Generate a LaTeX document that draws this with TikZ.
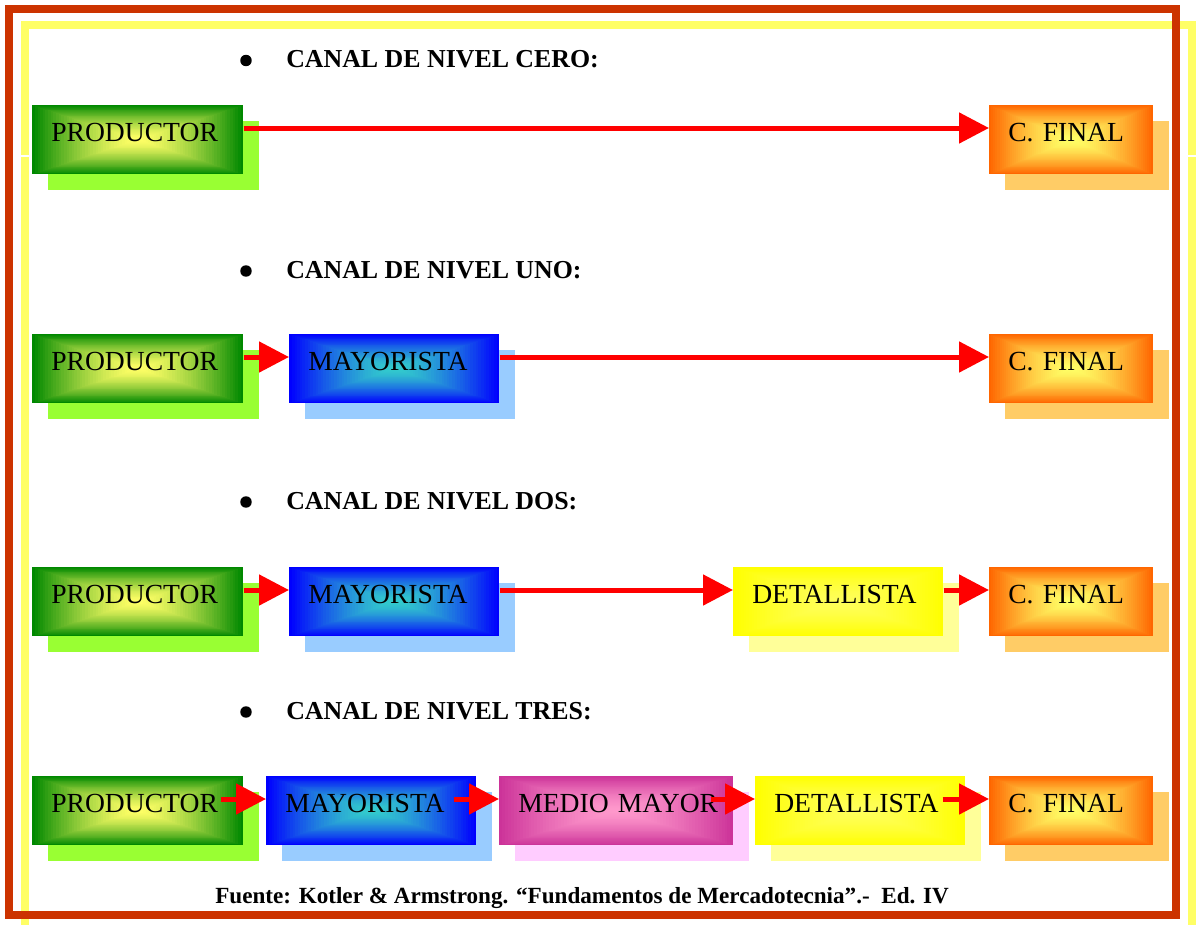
\documentclass[tikz,border=0pt]{standalone}
\usepackage{fontspec}
\setmainfont{Liberation Serif}
\usetikzlibrary{calc,arrows.meta,shadows}

% frame colours
\definecolor{framered}{RGB}{204,51,0}
\definecolor{frameyellow}{RGB}{255,255,102}
\definecolor{arrowred}{RGB}{255,0,0}
% box colours: outer, inner, shadow
\definecolor{prodout}{RGB}{0,136,0}
\definecolor{prodin}{RGB}{255,255,102}
\definecolor{prodsh}{RGB}{153,255,51}
\definecolor{mayout}{RGB}{0,0,255}
\definecolor{mayin}{RGB}{51,204,204}
\definecolor{maysh}{RGB}{153,204,255}
\definecolor{medout}{RGB}{204,51,153}
\definecolor{medin}{RGB}{255,153,204}
\definecolor{medsh}{RGB}{255,204,255}
\definecolor{detout}{RGB}{255,255,0}
\definecolor{detin}{RGB}{255,255,90}
\definecolor{detsh}{RGB}{255,255,153}
\definecolor{finout}{RGB}{255,102,0}
\definecolor{finin}{RGB}{255,255,102}
\definecolor{finsh}{RGB}{255,204,102}

\newcommand\boxfont{\fontsize{20.7pt}{24pt}\selectfont}
\newcommand\headfont{\fontsize{19.4pt}{23pt}\selectfont\bfseries}
\newcommand\notefont{\fontsize{17.35pt}{20pt}\selectfont\bfseries}

\tikzset{
  % box with a rectangular gradient from the centre outwards and a flat offset shadow
  gbox/.style n args={3}{
    rectangle, anchor=north west, fill=#1,
    inner xsep=14.25pt, inner ysep=0pt,
    text height=27pt, text depth=24.75pt,
    align=left, font=\boxfont,
    general shadow={fill=#3, shadow xshift=12pt, shadow yshift=-12pt},
    path picture={
      \foreach \k in {0,...,40}{
        \pgfmathsetmacro\fr{\k/80}
        \pgfmathsetmacro\pc{100*(1-(1-\k/40)^1.5)}
        \fill[#2!\pc!#1]
          ($(path picture bounding box.south west)!\fr!(path picture bounding box.north east)$)
          rectangle
          ($(path picture bounding box.north east)!\fr!(path picture bounding box.south west)$);
      }
    }
  },
  prod/.style={gbox={prodout}{prodin}{prodsh}, text width=129.75pt},
  mayo/.style={gbox={mayout}{mayin}{maysh}, text width=129pt},
  medi/.style={gbox={medout}{medin}{medsh}, text width=147pt},
  deta/.style={gbox={detout}{detin}{detsh}, text width=129pt},
  fina/.style={gbox={finout}{finin}{finsh}, text width=94.5pt},
  heading/.style={anchor=base west, inner sep=0pt, font=\headfont},
  bulletdot/.style={circle, fill=black, inner sep=0pt, minimum size=8.6pt},
  arr/.style={draw=arrowred, line width=3.75pt,
    -{Triangle[length=22.5pt,width=22.5pt]}},
}

\begin{document}
\begin{tikzpicture}[x=0.75pt,y=-0.75pt]
\useasboundingbox (0,0) rectangle (1200,925);

% double page frame
\draw[frameyellow, line width=6pt, line join=miter] (25,925) |- (1191.5,24.5) -- (1191.5,925);
\draw[white, line width=0.8pt] (20,156) -- (30,156) (1186,156) -- (1197,156);
\draw[framered, line width=6pt, line join=miter] (9,9) rectangle (1176,915);

% level zero
\node[bulletdot] (b1) at (246,60.5) {};
\node[heading] (h1) at (286,67) {CANAL DE NIVEL CERO:};
\node[prod] (p1) at (32,105) {PRODUCTOR};
\node[fina] (f1) at (989,105) {C. FINAL};
\draw[arr] ([shift={(0,23)}]p1.north east) -- ([shift={(0,23)}]f1.north west);

% level one
\node[bulletdot] (b2) at (246,271) {};
\node[heading] (h2) at (286,278) {CANAL DE NIVEL UNO:};
\node[prod] (p2) at (32,334) {PRODUCTOR};
\node[mayo] (m2) at (289,334) {MAYORISTA};
\node[fina] (f2) at (989,334) {C. FINAL};
\draw[arr] ([shift={(0,23)}]p2.north east) -- ([shift={(0,23)}]m2.north west);
\draw[arr] ([shift={(0,23)}]m2.north east) -- ([shift={(0,23)}]f2.north west);

% level two
\node[bulletdot] (b3) at (246,502) {};
\node[heading] (h3) at (286,509) {CANAL DE NIVEL DOS:};
\node[prod] (p3) at (32,567) {PRODUCTOR};
\node[mayo] (m3) at (289,567) {MAYORISTA};
\node[deta] (d3) at (733,567) {DETALLISTA};
\node[fina] (f3) at (989,567) {C. FINAL};
\draw[arr] ([shift={(0,23)}]p3.north east) -- ([shift={(0,23)}]m3.north west);
\draw[arr] ([shift={(0,23)}]m3.north east) -- ([shift={(0,23)}]d3.north west);
\draw[arr] ([shift={(0,23)}]d3.north east) -- ([shift={(0,23)}]f3.north west);

% level three
\node[bulletdot] (b4) at (246,712) {};
\node[heading] (h4) at (286,719) {CANAL DE NIVEL TRES:};
\node[prod] (p4) at (32,776) {PRODUCTOR};
\node[mayo] (m4) at (266,776) {MAYORISTA};
\node[medi] (e4) at (499,776) {MEDIO~MAYOR};
\node[deta] (d4) at (755,776) {DETALLISTA};
\node[fina] (f4) at (989,776) {C. FINAL};
\draw[arr] ([shift={(-23,23)}]p4.north east) -- ([shift={(0,23)}]m4.north west);
\draw[arr] ([shift={(-23,23)}]m4.north east) -- ([shift={(0,23)}]e4.north west);
\draw[arr] ([shift={(-23,23)}]e4.north east) -- ([shift={(0,23)}]d4.north west);
\draw[arr] ([shift={(-23,23)}]d4.north east) -- ([shift={(0,23)}]f4.north west);

% source
\node[anchor=base west, inner sep=0pt, font=\notefont] (src) at (215,903)
  {Fuente: Kotler \& Armstrong. “Fundamentos de Mercadotecnia”.-\ \ Ed. IV};
\end{tikzpicture}
\end{document}
